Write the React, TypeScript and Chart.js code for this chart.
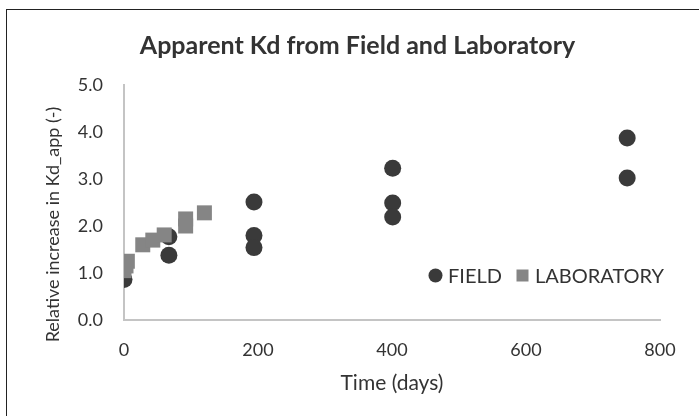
import React, { useEffect, useRef } from "react";
import { Chart, registerables } from "chart.js";

Chart.register(...registerables);

const TITLE = "Apparent Kd from Field and Laboratory";
const X_TITLE = "Time (days)";
const Y_TITLE = "Relative increase in Kd_app (-)";
const LEGEND_FIELD = "FIELD";
const LEGEND_LAB = "LABORATORY";

const fieldX = [0, 67, 67, 194, 194, 194, 401, 401, 401, 751, 751];
const fieldY = [0.86, 1.38, 1.77, 2.51, 1.8, 1.54, 3.23, 2.49, 2.19, 3.87, 3.02];

const labX = [0, 3, 5, 28, 43, 60, 92, 92, 120];
const labY = [1.05, 1.15, 1.25, 1.6, 1.7, 1.81, 2.0, 2.15, 2.28];

const X_MIN = 0;
const X_MAX = 800;
const X_STEP = 200;
const Y_MIN = 0;
const Y_MAX = 5;
const Y_STEP = 1;

const FIELD_COLOR = "#3a3a3a";
const LAB_COLOR = "#858585";
const TEXT_COLOR = "#333333";
const FONT = "Lato, 'Open Sans', sans-serif";

const overlayPlugin = {
  id: "overlay",
  afterDraw(chart: any) {
    const { ctx, chartArea } = chart;
    ctx.save();
    ctx.fillStyle = TEXT_COLOR;
    ctx.textAlign = "center";
    ctx.textBaseline = "middle";

    // chart title
    ctx.font = `bold 25px ${FONT}`;
    ctx.fillText(TITLE, 357.5, chartArea.top - 39);

    // x axis title
    ctx.font = `21px ${FONT}`;
    ctx.fillText(X_TITLE, (chartArea.left + chartArea.right) / 2, chartArea.bottom + 63);

    // y axis title
    ctx.save();
    ctx.font = `18px ${FONT}`;
    ctx.translate(53, (chartArea.top + chartArea.bottom) / 2 + 22);
    ctx.rotate(-Math.PI / 2);
    ctx.fillText(Y_TITLE, 0, 0);
    ctx.restore();

    // legend
    const ly = chartArea.bottom - 44.5;
    let lx = chartArea.right - 224.5;
    ctx.textAlign = "left";
    ctx.font = `20px ${FONT}`;
    ctx.fillStyle = FIELD_COLOR;
    ctx.beginPath();
    ctx.arc(lx, ly, 7, 0, Math.PI * 2);
    ctx.fill();
    ctx.fillStyle = TEXT_COLOR;
    ctx.fillText(LEGEND_FIELD, lx + 12.5, ly + 1);
    lx += 87;
    ctx.fillStyle = LAB_COLOR;
    ctx.fillRect(lx - 6, ly - 6, 12, 12);
    ctx.fillStyle = TEXT_COLOR;
    ctx.fillText(LEGEND_LAB, lx + 12.5, ly + 1);
    ctx.restore();
  },
};

export default function App() {
  const ref = useRef<HTMLCanvasElement | null>(null);

  useEffect(() => {
    if (!ref.current) return;
    const chart = new Chart(ref.current, {
      type: "scatter",
      data: {
        datasets: [
          {
            label: LEGEND_FIELD,
            data: fieldX.map((x, i) => ({ x, y: fieldY[i] })),
            pointStyle: "circle",
            pointRadius: 8.5,
            backgroundColor: FIELD_COLOR,
            borderColor: FIELD_COLOR,
            borderWidth: 0,
            order: 2,
          },
          {
            label: LEGEND_LAB,
            data: labX.map((x, i) => ({ x, y: labY[i] })),
            pointStyle: "rect",
            pointRadius: 10.6,
            backgroundColor: LAB_COLOR,
            borderColor: LAB_COLOR,
            borderWidth: 0,
            order: 1,
          },
        ],
      },
      options: {
        responsive: false,
        animation: false,
        layout: { padding: { left: 0, right: 39, top: 85, bottom: 0 } },
        plugins: {
          legend: { display: false },
          tooltip: { enabled: false },
          title: { display: false },
        },
        scales: {
          x: {
            type: "linear",
            min: X_MIN,
            max: X_MAX,
            grid: { display: false, drawTicks: false },
            border: { display: true, color: "#c4c4c4", width: 2 },
            ticks: {
              stepSize: X_STEP,
              color: TEXT_COLOR,
              font: { family: FONT, size: 18 },
              padding: 19,
              maxRotation: 0,
            },
            afterFit(scale: any) {
              scale.height = 96;
            },
          },
          y: {
            type: "linear",
            min: Y_MIN,
            max: Y_MAX,
            grid: { display: false, drawTicks: false },
            border: { display: true, color: "#c4c4c4", width: 2 },
            ticks: {
              stepSize: Y_STEP,
              color: TEXT_COLOR,
              font: { family: FONT, size: 18 },
              padding: 21,
              callback: (v: any) => Number(v).toFixed(1),
            },
            afterFit(scale: any) {
              scale.width = 124;
            },
          },
        },
      },
      plugins: [overlayPlugin],
    });
    return () => chart.destroy();
  }, []);

  return (
    <div style={{ position: "fixed", left: 0, top: 0, width: 699, height: 416, background: "#fff", overflow: "hidden" }}>
      <div
        style={{
          position: "absolute",
          left: 6,
          top: 9,
          width: 760,
          height: 460,
          border: "1.5px solid #222",
          boxSizing: "border-box",
        }}
      />
      <canvas ref={ref} width={699} height={416} style={{ position: "absolute", left: 0, top: 0, width: 699, height: 416 }} />
    </div>
  );
}
